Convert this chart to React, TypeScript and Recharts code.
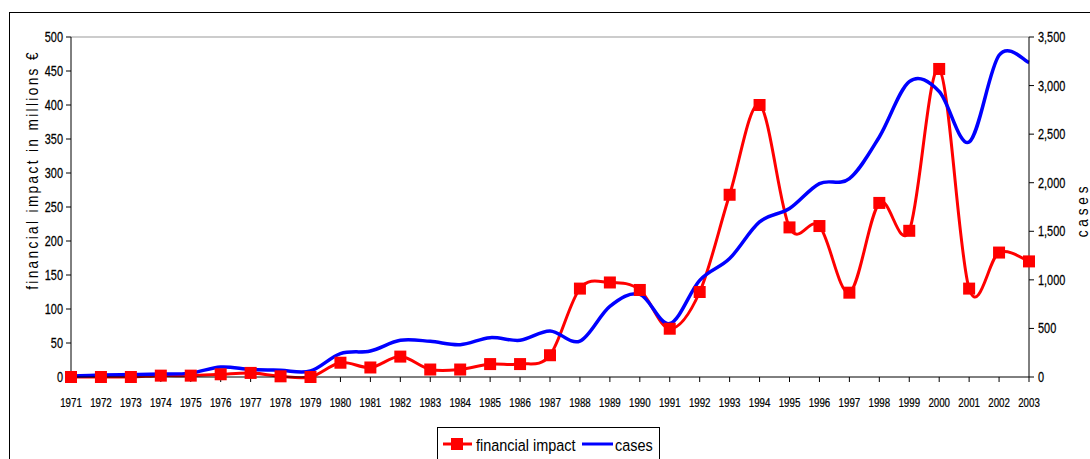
import React from 'react';
import { LineChart, Line, XAxis, YAxis, ReferenceLine, Legend } from 'recharts';

const years = [
  '1971', '1972', '1973', '1974', '1975', '1976', '1977', '1978', '1979', '1980', '1981',
  '1982', '1983', '1984', '1985', '1986', '1987', '1988', '1989', '1990', '1991', '1992',
  '1993', '1994', '1995', '1996', '1997', '1998', '1999', '2000', '2001', '2002', '2003',
];

// financial impact in millions €
const financialImpact = [
  0, 0, 0, 2, 2, 4, 6, 1, 0, 21, 14, 30, 11, 11, 19, 19, 32,
  130, 139, 128, 71, 125, 268, 400, 220, 222, 124, 256, 215, 453, 130, 183, 170,
];

// number of cases
const cases = [
  10, 20, 25, 30, 40, 103, 79, 69, 62, 241, 268, 378, 367, 333, 405, 378, 474,
  370, 728, 851, 550, 995, 1219, 1596, 1734, 1991, 2042, 2471, 3040, 2940, 2419, 3312, 3237,
];

const leftTicks = [0, 50, 100, 150, 200, 250, 300, 350, 400, 450, 500];
const rightTicks = [0, 500, 1000, 1500, 2000, 2500, 3000, 3500];

const data = years.map((year, i) => ({
  year,
  impact: financialImpact[i],
  cases: cases[i],
}));

const FONT = '"Liberation Sans", Arial, sans-serif';

// Excel-like smoothed line (Catmull-Rom through every point)
const smoothCurve = (context: any) => {
  let xs: number[] = [];
  let ys: number[] = [];
  return {
    areaStart() {},
    areaEnd() {},
    lineStart() {
      xs = [];
      ys = [];
    },
    point(x: number, y: number) {
      xs.push(+x);
      ys.push(+y);
    },
    lineEnd() {
      const n = xs.length;
      if (!n) return;
      context.moveTo(xs[0], ys[0]);
      for (let i = 0; i < n - 1; i++) {
        const p0 = Math.max(i - 1, 0);
        const p3 = Math.min(i + 2, n - 1);
        const c1x = xs[i] + (xs[i + 1] - xs[p0]) / 6;
        const c1y = ys[i] + (ys[i + 1] - ys[p0]) / 6;
        const c2x = xs[i + 1] - (xs[p3] - xs[i]) / 6;
        const c2y = ys[i + 1] - (ys[p3] - ys[i]) / 6;
        context.bezierCurveTo(c1x, c1y, c2x, c2y, xs[i + 1], ys[i + 1]);
      }
    },
  };
};

const SquareDot = (props: any) => {
  const { cx, cy } = props;
  if (cx == null || cy == null) return null;
  return <rect x={cx - 6} y={cy - 6} width={12} height={12} fill="#ff0000" />;
};

// the original uses a condensed face, so the texts are squeezed horizontally
const XTick = (props: any) => {
  const { x, payload } = props;
  return (
    <text
      transform={`translate(${x},407) scale(0.72,1)`}
      textAnchor="middle"
      fontSize={13.5}
      fontFamily={FONT}
      fill="#000"
      stroke="#000"
      strokeWidth={0.25}
    >
      {payload.value}
    </text>
  );
};

const YTick = (props: any) => {
  const { x, y, payload, textAnchor, fmt } = props;
  return (
    <text
      transform={`translate(${x},${y + 5}) scale(0.78,1)`}
      textAnchor={textAnchor}
      fontSize={14}
      fontFamily={FONT}
      fill="#000"
      stroke="#000"
      strokeWidth={0.25}
    >
      {fmt ? fmt(payload.value) : payload.value}
    </text>
  );
};

const LegendBox = () => (
  <svg width={224} height={40} style={{ display: 'block' }}>
    <rect x={0.5} y={0.5} width={222} height={45} fill="#fff" stroke="#000" />
    <line x1={6} y1={17} x2={35} y2={17} stroke="#ff0000" strokeWidth={3} />
    <rect x={14} y={11} width={12} height={12} fill="#ff0000" />
    <line x1={145} y1={17} x2={176} y2={17} stroke="#0000ff" strokeWidth={3} />
    <text transform="translate(39,23.5) scale(0.85,1)" fontSize={17} fontFamily={FONT} fill="#000">
      financial impact
    </text>
    <text transform="translate(178,23.5) scale(0.85,1)" fontSize={17} fontFamily={FONT} fill="#000">
      cases
    </text>
  </svg>
);

export default function App() {
  return (
    <div style={{ position: 'relative', width: 1090, height: 459, overflow: 'hidden', background: '#fff' }}>
      <style>{'body { margin: 0; }'}</style>
      <div
        style={{
          position: 'absolute',
          left: 9,
          top: 12,
          width: 1200,
          height: 600,
          border: '1px solid #000',
        }}
      />
      <div style={{ position: 'absolute', left: 0, top: 0 }}>
        <LineChart
          width={1090}
          height={459}
          data={data}
          margin={{ top: 37, right: 0, left: 0, bottom: 52 }}
        >
          <XAxis
            dataKey="year"
            ticks={years}
            interval={0}
            padding={{ left: 0, right: 0 }}
            height={30}
            tick={<XTick />}
            tickSize={5}
            tickMargin={4}
            axisLine={{ stroke: '#000' }}
            tickLine={{ stroke: '#000' }}
          />
          <YAxis
            yAxisId="left"
            domain={[0, 500]}
            ticks={leftTicks}
            width={71}
            tick={<YTick />}
            tickSize={5}
            tickMargin={3}
            axisLine={{ stroke: '#000' }}
            tickLine={{ stroke: '#000' }}
            label={() => (
              <text
                transform="translate(38,170) rotate(-90) scale(0.85,1)"
                textAnchor="middle"
                fontSize={16}
                letterSpacing={2.8}
                fontFamily={FONT}
                fill="#000"
              >
                financial impact in millions €
              </text>
            )}
          />
          <YAxis
            yAxisId="right"
            orientation="right"
            domain={[0, 3500]}
            ticks={rightTicks}
            width={61}
            tick={<YTick fmt={(v: number) => v.toLocaleString('en-US')} />}
            tickSize={5}
            tickMargin={4}
            axisLine={{ stroke: '#000' }}
            tickLine={{ stroke: '#000' }}
            label={() => (
              <text
                transform="translate(1088,210) rotate(-90) scale(0.85,1)"
                textAnchor="middle"
                fontSize={16}
                letterSpacing={4.5}
                fontFamily={FONT}
                fill="#000"
              >
                cases
              </text>
            )}
          />
          <ReferenceLine yAxisId="left" y={500} stroke="#999" strokeWidth={1} />
          <Line
            yAxisId="left"
            dataKey="impact"
            name="financial impact"
            type={smoothCurve as any}
            stroke="#ff0000"
            strokeWidth={3}
            dot={<SquareDot />}
            activeDot={false}
            isAnimationActive={false}
          />
          <Line
            yAxisId="right"
            dataKey="cases"
            name="cases"
            type={smoothCurve as any}
            stroke="#0000ff"
            strokeWidth={3.5}
            dot={false}
            activeDot={false}
            isAnimationActive={false}
          />
          <Legend
            layout="horizontal"
            verticalAlign="middle"
            align="center"
            content={() => <LegendBox />}
            wrapperStyle={{ position: 'absolute', left: 437, top: 427, width: 224, height: 40 }}
          />
        </LineChart>
      </div>
    </div>
  );
}
